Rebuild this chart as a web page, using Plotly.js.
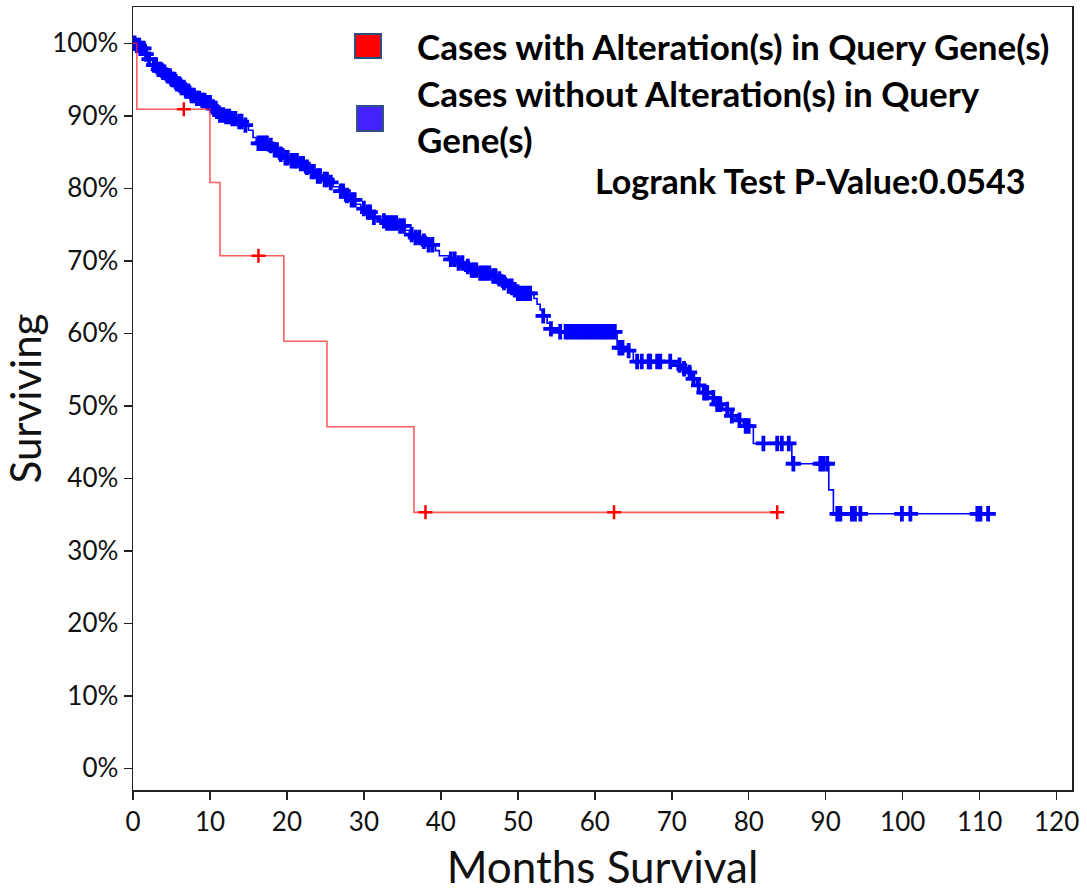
<!DOCTYPE html>
<html>
<head>
<meta charset="utf-8">
<script src="https://cdn.plot.ly/plotly-3.0.1.min.js"></script>
<style>html,body{margin:0;padding:0;background:#fff;}#chart{width:1087px;height:892px;}</style>
</head>
<body>
<div id="chart"></div>
<script>
// ---- Data ----
// Cases with alteration(s): event times (months) and survival after each event
const redTimes = [0.5, 10.0, 11.3, 19.6, 25.2, 36.5];
const redSurv  = [0.909, 0.808, 0.707, 0.589, 0.471, 0.353];
const redCensor = [6.6, 16.3, 38.0, 62.5, 83.7];

// Cases without alteration(s)
const blueTimes = [0.4, 0.9, 1.5, 2.0, 2.6, 3.1, 3.7, 4.3, 4.9, 5.5, 6.1, 6.7, 7.4, 8.0, 8.8, 9.6,
  10.2, 10.6, 11.2, 12.0, 12.8, 13.6, 14.3, 15.0, 15.6, 16.0, 17.6, 18.2, 18.9, 19.5, 20.3, 21.5,
  22.3, 23.0, 23.8, 24.6, 25.4, 26.0, 26.8, 27.5, 28.2, 28.9, 29.6, 30.3, 31.0, 31.8, 33.0, 34.5,
  35.3, 35.9, 36.6, 37.5, 38.3, 39.3, 39.8, 41.0, 42.0, 43.0, 43.8, 44.8, 46.5, 47.3, 48.0, 48.6,
  49.3, 50.0, 52.1, 52.5, 52.9, 53.3, 53.8, 54.3, 54.8, 62.9, 64.0, 65.0, 70.3, 71.1, 72.0, 72.6,
  73.2, 74.0, 74.8, 75.8, 76.6, 77.6, 78.4, 79.3, 80.6, 85.6, 90.4, 91.0];
const blueSurv = [0.997, 0.993, 0.985, 0.978, 0.970, 0.964, 0.960, 0.955, 0.950, 0.944, 0.939, 0.934, 0.928, 0.924, 0.921, 0.918,
  0.912, 0.906, 0.901, 0.899, 0.896, 0.892, 0.887, 0.880, 0.870, 0.862, 0.859, 0.853, 0.847, 0.842, 0.838, 0.834,
  0.829, 0.823, 0.817, 0.812, 0.808, 0.802, 0.796, 0.790, 0.784, 0.778, 0.772, 0.767, 0.760, 0.755, 0.752, 0.748,
  0.742, 0.736, 0.732, 0.727, 0.722, 0.714, 0.707, 0.702, 0.697, 0.692, 0.687, 0.683, 0.679, 0.675, 0.670, 0.665,
  0.660, 0.655, 0.648, 0.640, 0.632, 0.624, 0.614, 0.606, 0.602, 0.580, 0.576, 0.561, 0.556, 0.551, 0.546, 0.537,
  0.528, 0.518, 0.511, 0.502, 0.495, 0.486, 0.480, 0.472, 0.448, 0.420, 0.384, 0.351];
const blueCensor = [0.2, 0.5, 0.8, 1.1, 1.4, 1.7, 2.1, 2.7, 3.0, 3.3, 3.6, 3.9, 4.1, 4.5, 4.8, 5.1, 5.4,
  5.7, 6.0, 6.3, 6.6, 6.9, 7.2, 7.6, 7.9, 8.3, 8.6, 9.0, 9.3, 9.7, 10.0, 10.4, 10.9, 11.3, 11.7, 12.1, 12.5,
  12.9, 13.3, 13.8, 14.1, 14.6, 16.3, 16.7, 17.1, 17.4, 17.9, 18.4, 18.7, 19.2, 19.8, 20.1, 20.6, 21.0, 21.3,
  21.8, 22.1, 22.6, 23.2, 23.5, 24.0, 24.3, 24.9, 25.2, 25.7, 27.0, 27.3, 27.8, 28.4, 28.8, 30.0, 30.5,
  30.8, 31.3, 32.6, 33.0, 33.4, 33.8, 34.2, 34.7, 35.2, 36.2, 36.7, 37.2, 37.8, 38.4, 38.9, 41.3, 41.8, 42.3,
  42.8, 43.5, 44.0, 44.3, 44.6, 45.1, 45.5, 45.9, 46.3, 46.8, 47.1, 47.6, 48.2, 48.8, 49.2, 49.6, 50.0, 50.4,
  50.8, 51.2, 51.6, 53.3, 54.3,
  55.5, 56.2, 56.6, 57.0, 57.4, 57.8, 58.2, 58.6, 59.0, 59.4, 59.8, 60.2, 60.6, 61.0, 61.4, 61.8, 62.2, 62.6,
  63.2, 63.6, 64.4, 65.5, 66.1, 67.0, 67.2, 68.1, 68.5, 69.8, 71.0, 71.6, 72.3, 72.8, 73.5, 74.2, 74.6, 75.4,
  75.9, 76.3, 77.2, 77.8, 78.8, 79.6, 80.0, 81.9, 83.7, 84.3, 85.2, 85.8, 89.3, 89.7, 90.2, 91.5, 91.9, 93.4,
  93.8, 94.5, 99.9, 101.0, 109.7, 110.1, 111.1];

const xTicks = [0, 10, 20, 30, 40, 50, 60, 70, 80, 90, 100, 110, 120];
const yTicks = [0, 0.1, 0.2, 0.3, 0.4, 0.5, 0.6, 0.7, 0.8, 0.9, 1.0];
const legendLabels = ['Cases with Alteration(s) in Query Gene(s)', 'Cases without Alteration(s) in Query<br>Gene(s)'];
const pValueText = 'Logrank Test P-Value:0.0543';

// ---- helpers (Kaplan–Meier step lookups) ----
function survAt(times, surv, t) {
  let s = 1;
  for (let i = 0; i < times.length; i++) if (times[i] <= t) s = surv[i];
  return s;
}
function stepLine(times, surv, endT) {
  return { x: [0].concat(times, [endT]), y: [1].concat(surv, [surv[surv.length - 1]]) };
}

const redStep = stepLine(redTimes, redSurv, redCensor[redCensor.length - 1]);
const blueStep = stepLine(blueTimes, blueSurv, blueCensor[blueCensor.length - 1]);

const RED = 'rgba(255,40,40,0.75)';
const BLUE = '#0000ff';

const traces = [
  { x: blueStep.x, y: blueStep.y, mode: 'lines', line: { shape: 'hv', color: BLUE, width: 1.6 }, showlegend: false, hoverinfo: 'skip' },
  { x: blueCensor, y: blueCensor.map(t => survAt(blueTimes, blueSurv, t)), mode: 'markers',
    marker: { symbol: 'cross-thin', size: 11, line: { color: BLUE, width: 3.8 } }, showlegend: false },
  { x: redStep.x, y: redStep.y, mode: 'lines', line: { shape: 'hv', color: RED, width: 1.6 }, showlegend: false, hoverinfo: 'skip' },
  { x: redCensor, y: redCensor.map(t => survAt(redTimes, redSurv, t)), mode: 'markers',
    marker: { symbol: 'cross-thin', size: 10, line: { color: '#ff0000', width: 2.5 } }, showlegend: false }
];

const FONT = 'Lato, "Open Sans", sans-serif';
const axisCommon = {
  showgrid: false, zeroline: false, showline: true, linecolor: '#222', linewidth: 1.5, mirror: true,
  ticks: 'outside', ticklen: 8, tickwidth: 1.5, tickcolor: '#222',
  tickfont: { family: FONT, size: 26, color: '#111' }
};

const layout = {
  width: 1087, height: 892,
  margin: { l: 133, r: 15, t: 7, b: 102 },
  paper_bgcolor: '#fff', plot_bgcolor: '#fff',
  showlegend: false,
  xaxis: Object.assign({}, axisCommon, {
    range: [0, 122], tickvals: xTicks, ticktext: xTicks.map(String),
    title: { text: 'Months Survival', font: { family: FONT, size: 44, color: '#111' }, standoff: 16 }
  }),
  yaxis: Object.assign({}, axisCommon, {
    range: [-0.03, 1.05], tickvals: yTicks, tickformat: '.0%',
    title: { text: 'Surviving', font: { family: FONT, size: 42, color: '#111' }, standoff: 0 }
  }),
  shapes: [
    { type: 'rect', xref: 'paper', yref: 'paper', x0: 0.2364, x1: 0.2641, y0: 0.9349, y1: 0.9655,
      fillcolor: '#ff0000', line: { color: '#2f4f80', width: 2 } },
    { type: 'rect', xref: 'paper', yref: 'paper', x0: 0.2386, x1: 0.2662, y0: 0.8416, y1: 0.8736,
      fillcolor: '#4422ff', line: { color: '#2f4f80', width: 2 } }
  ],
  annotations: [
    { xref: 'paper', yref: 'paper', x: 0.300, y: 0.950, xanchor: 'left', yanchor: 'middle', showarrow: false, align: 'left',
      text: '<b>' + legendLabels[0] + '</b>', font: { family: FONT, size: 35, color: '#000' } },
    { xref: 'paper', yref: 'paper', x: 0.300, y: 0.861, xanchor: 'left', yanchor: 'middle', showarrow: false, align: 'left',
      text: '<b>' + legendLabels[1] + '</b>', font: { family: FONT, size: 35, color: '#000' } },
    { xref: 'paper', yref: 'paper', x: 0.953, y: 0.779, xanchor: 'right', yanchor: 'middle', showarrow: false,
      text: '<b>' + pValueText + '</b>', font: { family: FONT, size: 34, color: '#000' } }
  ]
};

Plotly.newPlot('chart', traces, layout, { staticPlot: true, displayModeBar: false });
</script>
</body>
</html>
